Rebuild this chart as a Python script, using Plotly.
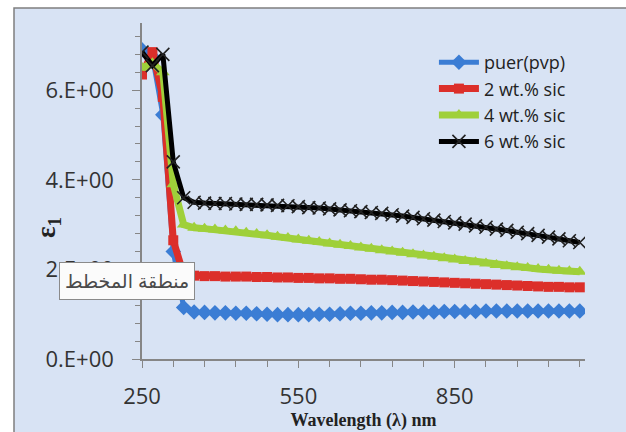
import plotly.graph_objects as go

wavelength = [250, 270, 290, 310, 330, 350, 370, 390, 410, 430, 450, 470, 490, 510, 530,
              550, 570, 590, 610, 630, 650, 670, 690, 710, 730, 750, 770, 790, 810, 830,
              850, 870, 890, 910, 930, 950, 970, 990, 1010, 1030, 1050, 1070, 1090]

pure_pvp = [6.9, 6.75, 5.45, 2.4, 1.15, 1.05, 1.04, 1.03, 1.03, 1.02, 1.02, 1.01, 1.00, 0.99, 0.99,
            0.99, 0.99, 1.00, 1.00, 1.01, 1.02, 1.02, 1.03, 1.03, 1.04, 1.04, 1.05, 1.05, 1.05, 1.06,
            1.06, 1.06, 1.06, 1.07, 1.07, 1.07, 1.07, 1.07, 1.07, 1.07, 1.07, 1.07, 1.07]

sic_2 = [6.35, 6.85, 5.85, 2.65, 1.88, 1.86, 1.85, 1.85, 1.84, 1.84, 1.84, 1.83, 1.83, 1.82, 1.82,
         1.81, 1.81, 1.80, 1.80, 1.79, 1.79, 1.78, 1.77, 1.77, 1.76, 1.75, 1.74, 1.73, 1.72, 1.71,
         1.70, 1.69, 1.68, 1.67, 1.66, 1.65, 1.64, 1.63, 1.62, 1.61, 1.61, 1.60, 1.60]

sic_4 = [6.5, 6.6, 6.4, 3.9, 3.0, 2.93, 2.91, 2.89, 2.87, 2.85, 2.82, 2.79, 2.76, 2.73, 2.70,
         2.67, 2.64, 2.61, 2.58, 2.55, 2.52, 2.49, 2.46, 2.43, 2.40, 2.37, 2.34, 2.31, 2.28, 2.25,
         2.22, 2.19, 2.16, 2.13, 2.10, 2.07, 2.05, 2.03, 2.01, 1.99, 1.97, 1.96, 1.95]

sic_6 = [6.85, 6.55, 6.8, 4.4, 3.6, 3.5, 3.48, 3.47, 3.47, 3.46, 3.45, 3.45, 3.44, 3.43, 3.42,
         3.40, 3.38, 3.37, 3.35, 3.33, 3.31, 3.29, 3.27, 3.25, 3.22, 3.19, 3.16, 3.13, 3.10, 3.07,
         3.04, 3.01, 2.97, 2.94, 2.90, 2.87, 2.83, 2.80, 2.76, 2.72, 2.68, 2.64, 2.60]

series_names = ["puer(pvp)", "2 wt.% sic", "4 wt.% sic", "6 wt.% sic"]
y_tickvals = [0, 2, 4, 6]
y_ticktext = ["0.E+00", "2.E+00", "4.E+00", "6.E+00"]
x_tickvals = [250, 550, 850]

fig = go.Figure()
fig.add_trace(go.Scatter(x=wavelength, y=pure_pvp, name=series_names[0], mode="lines+markers",
                         line=dict(color="#3b7dd4", width=5),
                         marker=dict(symbol="diamond", size=12, color="#3b7dd4")))
fig.add_trace(go.Scatter(x=wavelength, y=sic_2, name=series_names[1], mode="lines+markers",
                         line=dict(color="#dc2f2a", width=7),
                         marker=dict(symbol="square", size=10, color="#dc2f2a")))
fig.add_trace(go.Scatter(x=wavelength, y=sic_4, name=series_names[2], mode="lines+markers",
                         line=dict(color="#9fd03a", width=7),
                         marker=dict(symbol="triangle-up", size=12, color="#9fd03a")))
fig.add_trace(go.Scatter(x=wavelength, y=sic_6, name=series_names[3], mode="lines+markers",
                         line=dict(color="#000000", width=5),
                         marker=dict(symbol="x-thin", size=13, color="#222222",
                                     line=dict(width=1.6, color="#222222"))))

# outer chart frame (Excel-like chart area)
fig.add_shape(type="rect", xref="paper", yref="paper",
              x0=(14 - 142) / 443, x1=(640 - 142) / 443,
              y0=(359 - 440) / 336, y1=(359 - 8) / 336,
              fillcolor="#d8e3f4", line=dict(color="#7f7f7f", width=1.5), layer="below")

# y-axis title
fig.add_annotation(xref="paper", yref="paper",
                   x=(48 - 142) / 443, y=(359 - 228) / 336,
                   text="<b>ε<sub>1</sub></b>", showarrow=False, textangle=-90,
                   font=dict(family="Liberation Serif, DejaVu Serif", size=27, color="#222222"),
                   xanchor="center", yanchor="middle")

# Excel tooltip
fig.add_annotation(xref="paper", yref="paper",
                   x=(127 - 142) / 443, y=(359 - 281) / 336,
                   text="منطقة المخطط", showarrow=False,
                   font=dict(family="Noto Sans, DejaVu Sans", size=19, color="#4a4a4a"),
                   bgcolor="#fbfbfb", bordercolor="#8a8a8a", borderwidth=1, borderpad=5,
                   xanchor="center", yanchor="middle")

fig.update_layout(
    width=626, height=432,
    margin=dict(l=142, r=41, t=23, b=73),
    paper_bgcolor="#ffffff",
    plot_bgcolor="#fcfdff",
    font=dict(family="Open Sans, Noto Sans, sans-serif", color="#333333"),
    showlegend=True,
    legend=dict(x=0.659, y=0.9375, xanchor="left", yanchor="top",
                bgcolor="rgba(0,0,0,0)", font=dict(size=18, color="#222222"),
                tracegroupgap=0, itemwidth=40),
    xaxis=dict(range=[250, 1100], tickvals=x_tickvals, ticks="outside", ticklen=7,
               tickcolor="#868686", showline=True, linecolor="#868686", linewidth=1.5,
               showgrid=False, zeroline=False, tickfont=dict(size=22, color="#333333"),
               ticklabelstandoff=10, automargin=False,
               minor=dict(dtick=60, tick0=250, ticks="outside", ticklen=6, tickcolor="#868686",
                          showgrid=False),
               title=dict(text="<b>Wavelength (λ) nm</b>", standoff=0,
                          font=dict(family="Liberation Serif, DejaVu Serif", size=18,
                                    color="#222222")),
               ),
    yaxis=dict(range=[0, 7.5], tickvals=y_tickvals, ticktext=y_ticktext, ticks="outside",
               ticklen=8, tickcolor="#868686", showline=True, linecolor="#868686",
               linewidth=1.5, showgrid=False, zeroline=False,
               tickfont=dict(size=22, color="#333333"), ticklabelstandoff=14,
               automargin=False,
               minor=dict(dtick=0.4, tick0=0, ticks="outside", ticklen=5, tickcolor="#868686",
                          showgrid=False),
               ),
)

fig.write_html("out.html")
